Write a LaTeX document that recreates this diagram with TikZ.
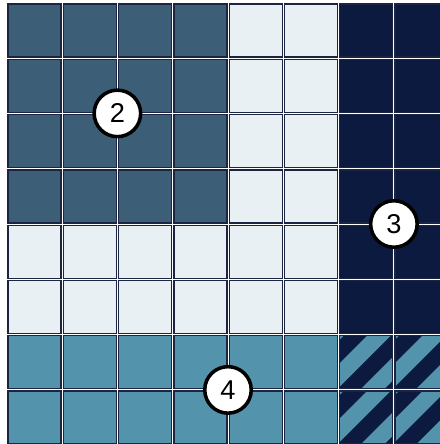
\documentclass[tikz,border=0pt]{standalone}
\usepackage{fontspec}
\setmainfont{Liberation Sans}
\definecolor{slate}{HTML}{3D5E77}
\definecolor{pale}{HTML}{E8F0F4}
\definecolor{navy}{HTML}{0C1A40}
\definecolor{teal}{HTML}{5394AC}
\definecolor{cellline}{HTML}{1B2440}
% one square of the grid: column, row, colour
\newcommand\gridcell[3]{%
  \fill[#3,cell] (8+55.3*#1,4+55.3*#2) rectangle +(53,53);}
\newcommand\stripecell[2]{%
  \begin{scope}
    \clip (8+55.3*#1,4+55.3*#2) rectangle +(53,53);
    \fill[navy] (8+55.3*#1,4+55.3*#2) rectangle +(53,53);
    \foreach \cc in {-8,39,86}
      \draw[teal,line width=9.4pt] (8+55.3*#1+\cc+30,4+55.3*#2-30) -- (8+55.3*#1-30,4+55.3*#2+\cc+30);
  \end{scope}
  \draw[cell] (8+55.3*#1,4+55.3*#2) rectangle +(53,53);}

\begin{document}
\begin{tikzpicture}[x=0.02cm,y=-0.02cm,
  cell/.style={draw=cellline,line width=0.7pt},
  badge/.style={circle,draw=black,line width=2pt,fill=white,minimum size=0.93cm,inner sep=0pt,font=\fontsize{15.5}{17}\selectfont}]
\useasboundingbox (0,0) rectangle (440,444);
\clip (0,0) rectangle (440,444);
\fill[white] (0,0) rectangle (440,444);

% top left block
\foreach \c in {0,...,3}
  \foreach \r in {0,...,3} {\gridcell{\c}{\r}{slate}}
% pale band
\foreach \c in {4,5}
  \foreach \r in {0,...,5} {\gridcell{\c}{\r}{pale}}
\foreach \c in {0,...,3}
  \foreach \r in {4,5} {\gridcell{\c}{\r}{pale}}
% right columns
\foreach \c in {6,7}
  \foreach \r in {0,...,5} {\gridcell{\c}{\r}{navy}}
% bottom rows
\foreach \c in {0,...,5}
  \foreach \r in {6,7} {\gridcell{\c}{\r}{teal}}
\foreach \c in {6,7}
  \foreach \r in {6,7} {\stripecell{\c}{\r}}

% labels
\node[badge] (two) at (117.4,113.4) {2};
\node[badge] (three) at (393.9,224) {3};
\node[badge] (four) at (228,389.9) {4};
\end{tikzpicture}
\end{document}
